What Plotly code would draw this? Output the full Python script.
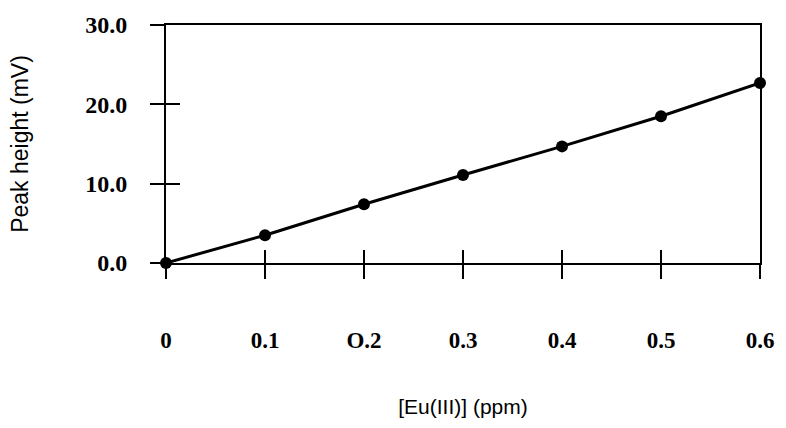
import plotly.graph_objects as go

conc = [0, 0.1, 0.2, 0.3, 0.4, 0.5, 0.6]
peak = [0, 3.5, 7.4, 11.1, 14.7, 18.5, 22.7]
x_ticks = [0, 0.1, 0.2, 0.3, 0.4, 0.5, 0.6]
x_labels = ["0", "0.1", "O.2", "0.3", "0.4", "0.5", "0.6"]
y_ticks = [0, 10, 20, 30]
y_labels = ["0.0", "10.0", "20.0", "30.0"]

serif = "Liberation Serif"
sans = "Liberation Sans"

fig = go.Figure()
fig.add_trace(go.Scatter(
    x=conc, y=peak, mode="lines+markers",
    line=dict(color="black", width=3),
    marker=dict(color="black", size=12),
    cliponaxis=False, showlegend=False, hoverinfo="skip"))
# helper trace to show crossing tick marks on overlay axes
fig.add_trace(go.Scatter(
    x=conc, y=peak, mode="markers", xaxis="x2", yaxis="y2",
    marker=dict(opacity=0), showlegend=False, hoverinfo="skip"))

fig.update_layout(
    width=786, height=428,
    margin=dict(l=166, r=23, t=24, b=165),
    paper_bgcolor="white", plot_bgcolor="white",
    xaxis=dict(range=[0, 0.6], tickvals=x_ticks, ticktext=x_labels,
               showgrid=False, zeroline=False,
               showline=True, linecolor="black", linewidth=2, mirror=True,
               ticks="outside", ticklen=14, tickwidth=1.5, tickcolor="black",
               ticklabelstandoff=41,
               tickfont=dict(family=serif, size=23, color="black", weight="bold"),
               title=dict(text="[Eu(III)] (ppm)", standoff=48,
                          font=dict(family=sans, size=21, color="black"))),
    yaxis=dict(range=[0, 30], tickvals=y_ticks, ticktext=y_labels,
               showgrid=False, zeroline=False,
               showline=True, linecolor="black", linewidth=2, mirror=True,
               ticks="outside", ticklen=14, tickwidth=1.5, tickcolor="black",
               ticklabelstandoff=18,
               tickfont=dict(family=serif, size=24, color="black", weight="bold"),
               title=dict(text="Peak height (mV)", standoff=50,
                          font=dict(family=sans, size=23, color="black"))),
    xaxis2=dict(overlaying="x", matches="x", anchor="y", side="bottom",
                tickvals=x_ticks, showticklabels=False, showgrid=False,
                zeroline=False, showline=False,
                ticks="inside", ticklen=13, tickwidth=1.5, tickcolor="black"),
    yaxis2=dict(overlaying="y", matches="y", anchor="x", side="left",
                tickvals=y_ticks, showticklabels=False, showgrid=False,
                zeroline=False, showline=False,
                ticks="inside", ticklen=14, tickwidth=1.5, tickcolor="black"),
)

fig.write_html("out.html")
